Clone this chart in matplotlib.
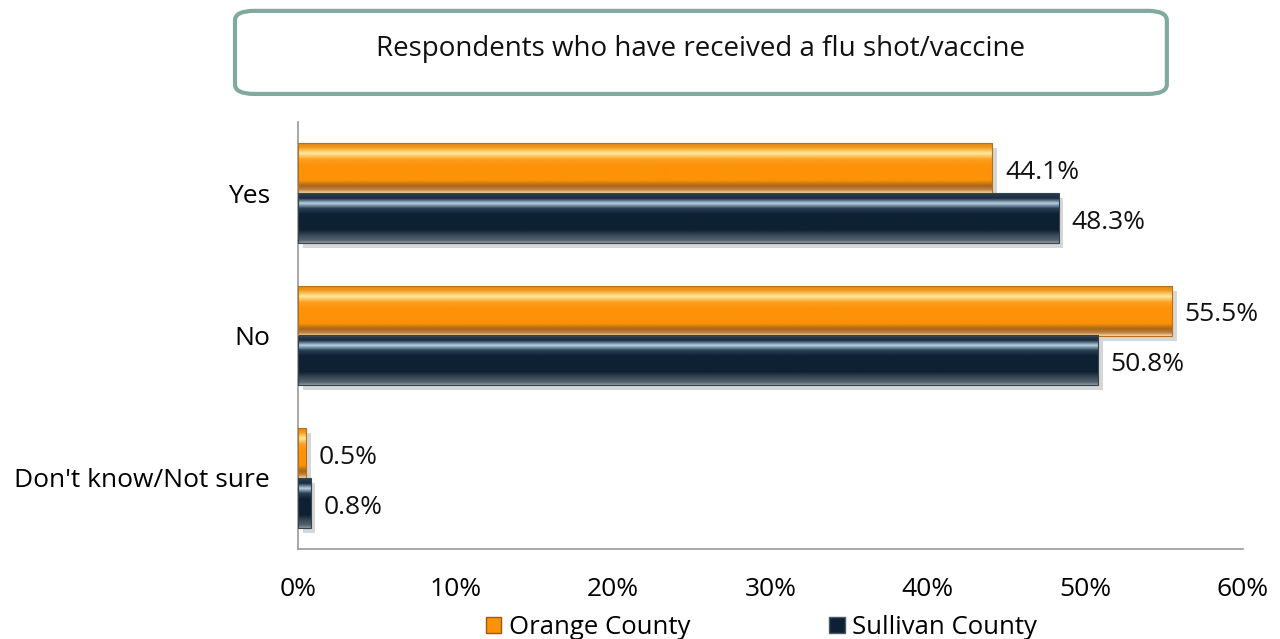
import matplotlib.pyplot as plt
from matplotlib.patches import FancyBboxPatch, Patch
from matplotlib.colors import to_rgb
import numpy as np

plt.rcParams['font.family'] = ['Open Sans', 'DejaVu Sans']

categories = ['Yes', 'No', "Don't know/Not sure"]
orange = [44.1, 55.5, 0.5]
sullivan = [48.3, 50.8, 0.8]
series_names = ['Orange County', 'Sullivan County']
ticks = [0, 10, 20, 30, 40, 50, 60]

c_orange = '#FC9208'
c_navy = '#0E2133'

# vertical shading profiles (position from top, colour)
orange_stops = [(0.0, '#D98A20'), (0.08, '#F59A18'), (0.2, '#FFE9A0'), (0.32, '#FCA020'),
                (0.45, c_orange), (0.75, c_orange), (0.86, '#A8661A'), (0.94, '#C08040'), (1.0, '#F3D7A8')]
navy_stops = [(0.0, '#2A3E50'), (0.1, '#1A2E40'), (0.2, '#B8D2E6'), (0.3, '#2A4055'),
              (0.42, c_navy), (0.74, c_navy), (0.86, '#3C4C5A'), (0.95, '#56626C'), (1.0, '#8A949C')]


def profile(stops, n=60):
    pos = np.array([s[0] for s in stops])
    cols = np.array([to_rgb(s[1]) for s in stops])
    t = np.linspace(0, 1, n)
    return np.stack([np.interp(t, pos, cols[:, k]) for k in range(3)], axis=1)[:, None, :]


fig = plt.figure(figsize=(12.8, 6.39), dpi=100)
ax = fig.add_axes([0.2328, 0.1408, 0.7382, 0.6682])

y = np.arange(len(categories))
h = 0.35


def bevel_bars(vals, offs, stops, edge):
    ys = y + offs
    img = profile(stops)
    ax.barh(ys + 0.035, vals, height=h, left=0.3, color='#8C8C8C', alpha=0.35, zorder=1, linewidth=0)
    for v, yy in zip(vals, ys):
        ax.imshow(img, extent=(0, v, yy + h / 2, yy - h / 2), aspect='auto', zorder=2,
                  interpolation='bilinear')
    ax.barh(ys, vals, height=h, facecolor='none', edgecolor=edge, linewidth=0.8, zorder=3)
    return ys


ys_o = bevel_bars(orange, -h / 2, orange_stops, '#B87018')
ys_s = bevel_bars(sullivan, h / 2, navy_stops, '#33444F')

for v, yy in zip(orange, ys_o):
    ax.text(v + 0.8, yy + 0.03, f'{v}%', va='center', ha='left', fontsize=19, color='#111111')
for v, yy in zip(sullivan, ys_s):
    ax.text(v + 0.8, yy + 0.03, f'{v}%', va='center', ha='left', fontsize=19, color='#111111')

ax.set_xlim(0, 60)
ax.set_ylim(2.5, -0.5)
ax.set_xticks(ticks)
ax.set_xticklabels([f'{t}%' for t in ticks], fontsize=19)
ax.set_yticks(y)
ax.set_yticklabels(categories, fontsize=19)
ax.tick_params(axis='x', length=0, pad=20)
ax.tick_params(axis='y', length=0, pad=20)
for s in ['top', 'right']:
    ax.spines[s].set_visible(False)
for s in ['left', 'bottom']:
    ax.spines[s].set_color('#999999')
    ax.spines[s].set_linewidth(1.2)

# title box
box = FancyBboxPatch((0.1836, 0.853), 0.728, 0.13, boxstyle='round,pad=0,rounding_size=0.015',
                     transform=fig.transFigure, facecolor='white', edgecolor='#80A9A0', linewidth=3)
fig.patches.append(box)
fig.text(0.547, 0.924, 'Respondents who have received a flu shot/vaccine', ha='center', va='center',
         fontsize=20, color='#111111')

handles = [Patch(facecolor=c_orange, edgecolor='#9A5A10'), Patch(facecolor=c_navy, edgecolor='#4A5A66')]
fig.legend(handles, series_names, loc='center', bbox_to_anchor=(0.595, 0.018), ncol=2, frameon=False,
           fontsize=18.5, handlelength=0.6, handleheight=0.6, handletextpad=0.3, columnspacing=5.4)

fig.savefig('out.png', dpi=100)
